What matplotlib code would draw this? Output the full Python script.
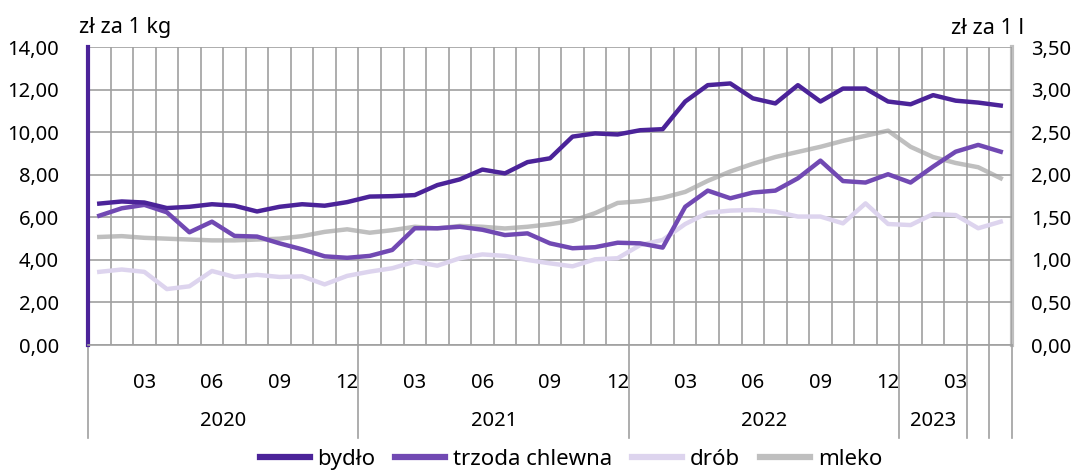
import matplotlib
matplotlib.use("Agg")
import matplotlib.pyplot as plt
from matplotlib.transforms import blended_transform_factory
from matplotlib.lines import Line2D

plt.rcParams['font.family'] = ['Noto Sans', 'DejaVu Sans']

# months Jan 2020 .. May 2023
months = [m for y in (2020, 2021, 2022) for m in range(1, 13)] + [1, 2, 3, 4, 5]
years = ["2020", "2021", "2022", "2023"]
year_spans = [(0, 12), (12, 24), (24, 36), (36, 39)]
separators = [0, 12, 24, 36, 39, 40, 41]

bydlo = [6.65, 6.75, 6.7, 6.44, 6.5, 6.62, 6.55, 6.28, 6.5, 6.62, 6.55, 6.72,
         6.98, 7.0, 7.05, 7.52, 7.79, 8.25, 8.07, 8.6, 8.78, 9.8, 9.95, 9.9,
         10.1, 10.15, 11.45, 12.22, 12.3, 11.6, 11.36, 12.22, 11.45, 12.06, 12.06, 11.45,
         11.32, 11.75, 11.49, 11.4, 11.26]
trzoda = [6.08, 6.43, 6.59, 6.24, 5.3, 5.8, 5.13, 5.1, 4.78, 4.5, 4.17, 4.1,
          4.19, 4.47, 5.49, 5.49, 5.56, 5.42, 5.17, 5.25, 4.78, 4.55, 4.6, 4.81,
          4.78, 4.58, 6.5, 7.26, 6.9, 7.17, 7.26, 7.84, 8.67, 7.71, 7.64, 8.03,
          7.64, 8.39, 9.09, 9.41, 9.09]
drob = [3.44, 3.55, 3.44, 2.63, 2.76, 3.48, 3.2, 3.3, 3.2, 3.23, 2.85, 3.25,
        3.45, 3.61, 3.92, 3.73, 4.08, 4.26, 4.19, 4.0, 3.84, 3.7, 4.03, 4.08,
        4.7, 4.94, 5.69, 6.22, 6.32, 6.35, 6.27, 6.04, 6.04, 5.72, 6.66, 5.69,
        5.64, 6.16, 6.11, 5.49, 5.8]
mleko = [1.27, 1.28, 1.26, 1.25, 1.24, 1.23, 1.23, 1.24, 1.25, 1.28, 1.33, 1.36,
         1.32, 1.35, 1.39, 1.37, 1.40, 1.39, 1.37, 1.39, 1.42, 1.46, 1.55, 1.67,
         1.69, 1.73, 1.80, 1.93, 2.04, 2.13, 2.21, 2.27, 2.33, 2.40, 2.46, 2.52,
         2.33, 2.21, 2.14, 2.09, 1.96]

names = ["bydło", "trzoda chlewna", "drób", "mleko"]
colors = ["#4B2399", "#7149B3", "#DDD4EE", "#BFBFBF"]

n = len(months)
x = [i + 0.5 for i in range(n)]
fs = 14.5

fig = plt.figure(figsize=(10.8, 4.7), dpi=100)
ax = fig.add_axes([88 / 1080, 1 - 345 / 470, (1012 - 88) / 1080, (345 - 47.3) / 470])
ax2 = ax.twinx()

ax.set_xlim(0, n)
ax.set_ylim(0, 14)
ax2.set_ylim(0, 3.5)
ax.set_yticks([0, 2, 4, 6, 8, 10, 12, 14])
ax2.set_yticks([0, 0.5, 1, 1.5, 2, 2.5, 3, 3.5])
ax.set_yticklabels([f"{v:.2f}".replace(".", ",") for v in ax.get_yticks()], fontsize=fs)
ax2.set_yticklabels([f"{v:.2f}".replace(".", ",") for v in ax2.get_yticks()], fontsize=fs)

grid_c = "#A0A0A0"
ax.set_xticks(range(n + 1), minor=True)
ax.set_xticks(x)
ax.set_xticklabels([f"{m:02d}" if m % 3 == 0 else "" for m in months], fontsize=fs)
ax.tick_params(axis='x', which='both', length=0, pad=20)
ax.tick_params(axis='y', length=0, pad=21)
ax2.tick_params(axis='y', length=0, pad=14)
ax.grid(True, which='minor', axis='x', color=grid_c, lw=1.2)
ax.grid(True, which='major', axis='y', color=grid_c, lw=1.2)
ax.set_axisbelow(True)

ax.spines['top'].set_visible(False)
ax2.spines['top'].set_visible(False)
ax.spines['left'].set_color(colors[0])
ax.spines['left'].set_linewidth(3)
ax2.spines['left'].set_visible(False)
ax2.spines['right'].set_color(colors[3])
ax2.spines['right'].set_linewidth(3)
ax.spines['right'].set_visible(False)
ax.spines['bottom'].set_color(grid_c)
ax.spines['bottom'].set_linewidth(1.2)
ax2.spines['bottom'].set_visible(False)

lw = 3.2
ax.plot(x, bydlo, color=colors[0], lw=lw, zorder=5, solid_joinstyle='round')
ax.plot(x, trzoda, color=colors[1], lw=lw, zorder=4, solid_joinstyle='round')
ax.plot(x, drob, color=colors[2], lw=lw, zorder=3, solid_joinstyle='round')
ax2.plot(x, mleko, color=colors[3], lw=lw, zorder=2, solid_joinstyle='round')
ax.set_zorder(ax2.get_zorder() + 1)
ax.patch.set_visible(False)

tr = blended_transform_factory(ax.transData, ax.transAxes)
for s in separators:
    ax.add_line(Line2D([s, s], [0, -0.313], transform=tr, color=grid_c, lw=1.2, clip_on=False))
for lab, (a, b) in zip(years, year_spans):
    ax.text((a + b) / 2, -0.255, lab, transform=tr, ha='center', va='center', fontsize=fs)

fig.text(79 / 1080, 1 - 28 / 470, "zł za 1 kg", fontsize=15.5, ha='left', va='center')
fig.text(1024 / 1080, 1 - 28 / 470, "zł za 1 l", fontsize=15.5, ha='right', va='center')

handles = [Line2D([], [], color=c, lw=4.5) for c in colors]
fig.legend(handles, names, loc='center', bbox_to_anchor=(571 / 1080, 0.022), ncol=4, frameon=False,
           fontsize=16, handlelength=2.25, handletextpad=0.35, columnspacing=0.9)

fig.savefig("out.png", dpi=100)
